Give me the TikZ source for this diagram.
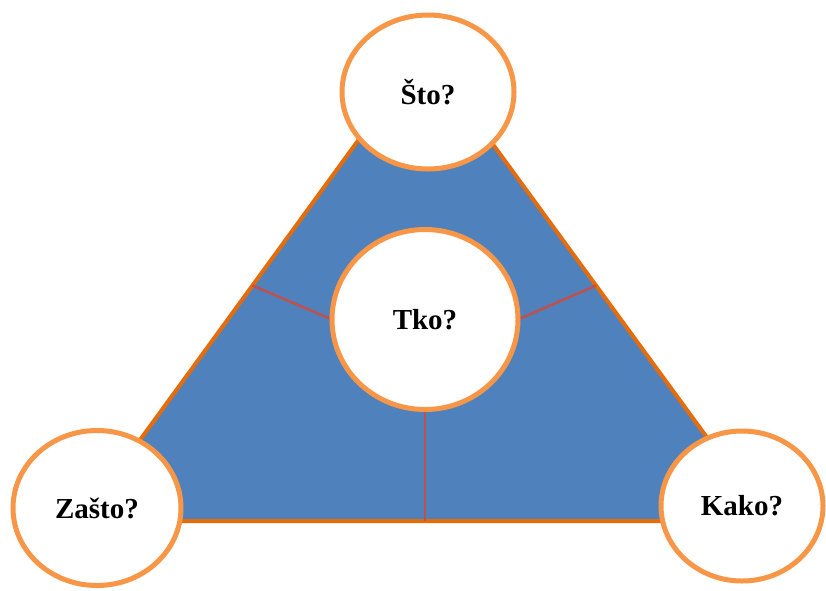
\documentclass[tikz,border=0pt]{standalone}
\usepackage{fontspec}
\setmainfont{Liberation Serif}
\usetikzlibrary{shapes.geometric,calc}
\definecolor{edgeor}{HTML}{E46C0A}
\definecolor{ringor}{HTML}{F79646}
\definecolor{fillblue}{HTML}{4F81BD}
\definecolor{spoke}{HTML}{C0504D}
\pgfdeclarelayer{bg}
\pgfsetlayers{bg,main}
\tikzset{
  bubble/.style={ellipse, draw=ringor, line width=5pt, fill=white, inner sep=0pt, outer sep=0pt,
     font=\fontsize{29}{29}\selectfont\bfseries},
  spokeline/.style={draw=spoke, line width=2.5pt},
  tri/.style={fill=fillblue, draw=edgeor, line width=4pt, line join=miter}
}
\begin{document}
\begin{tikzpicture}[x=1pt,y=-1pt]
\useasboundingbox (0,0) rectangle (826,590);
\coordinate (L) at (81,521);
\coordinate (A) at (424,50);
\coordinate (R) at (768,521);
\node[bubble, minimum width=172pt, minimum height=154pt] (sto) at (428,92) {Što?};
\node[bubble, minimum width=186pt, minimum height=180pt] (tko) at (425,319.5) {Tko?};
\node[bubble, minimum width=168pt, minimum height=155pt] (zasto) at (97,508) {Zašto?};
\node[bubble, minimum width=162pt, minimum height=150pt] (kako) at (742,506) {Kako?};
\begin{pgfonlayer}{bg}
\draw[tri] (L) -- (A) -- (R) -- cycle;
\coordinate (ml) at ($(L)!0.5!(A)$);
\coordinate (mr) at ($(R)!0.5!(A)$);
\coordinate (mb) at (tko.south |- L);
\draw[spokeline] (tko.west) -- (ml);
\draw[spokeline] (tko.east) -- (mr);
\draw[spokeline] (tko.south) -- (mb);
\end{pgfonlayer}
\end{tikzpicture}
\end{document}
